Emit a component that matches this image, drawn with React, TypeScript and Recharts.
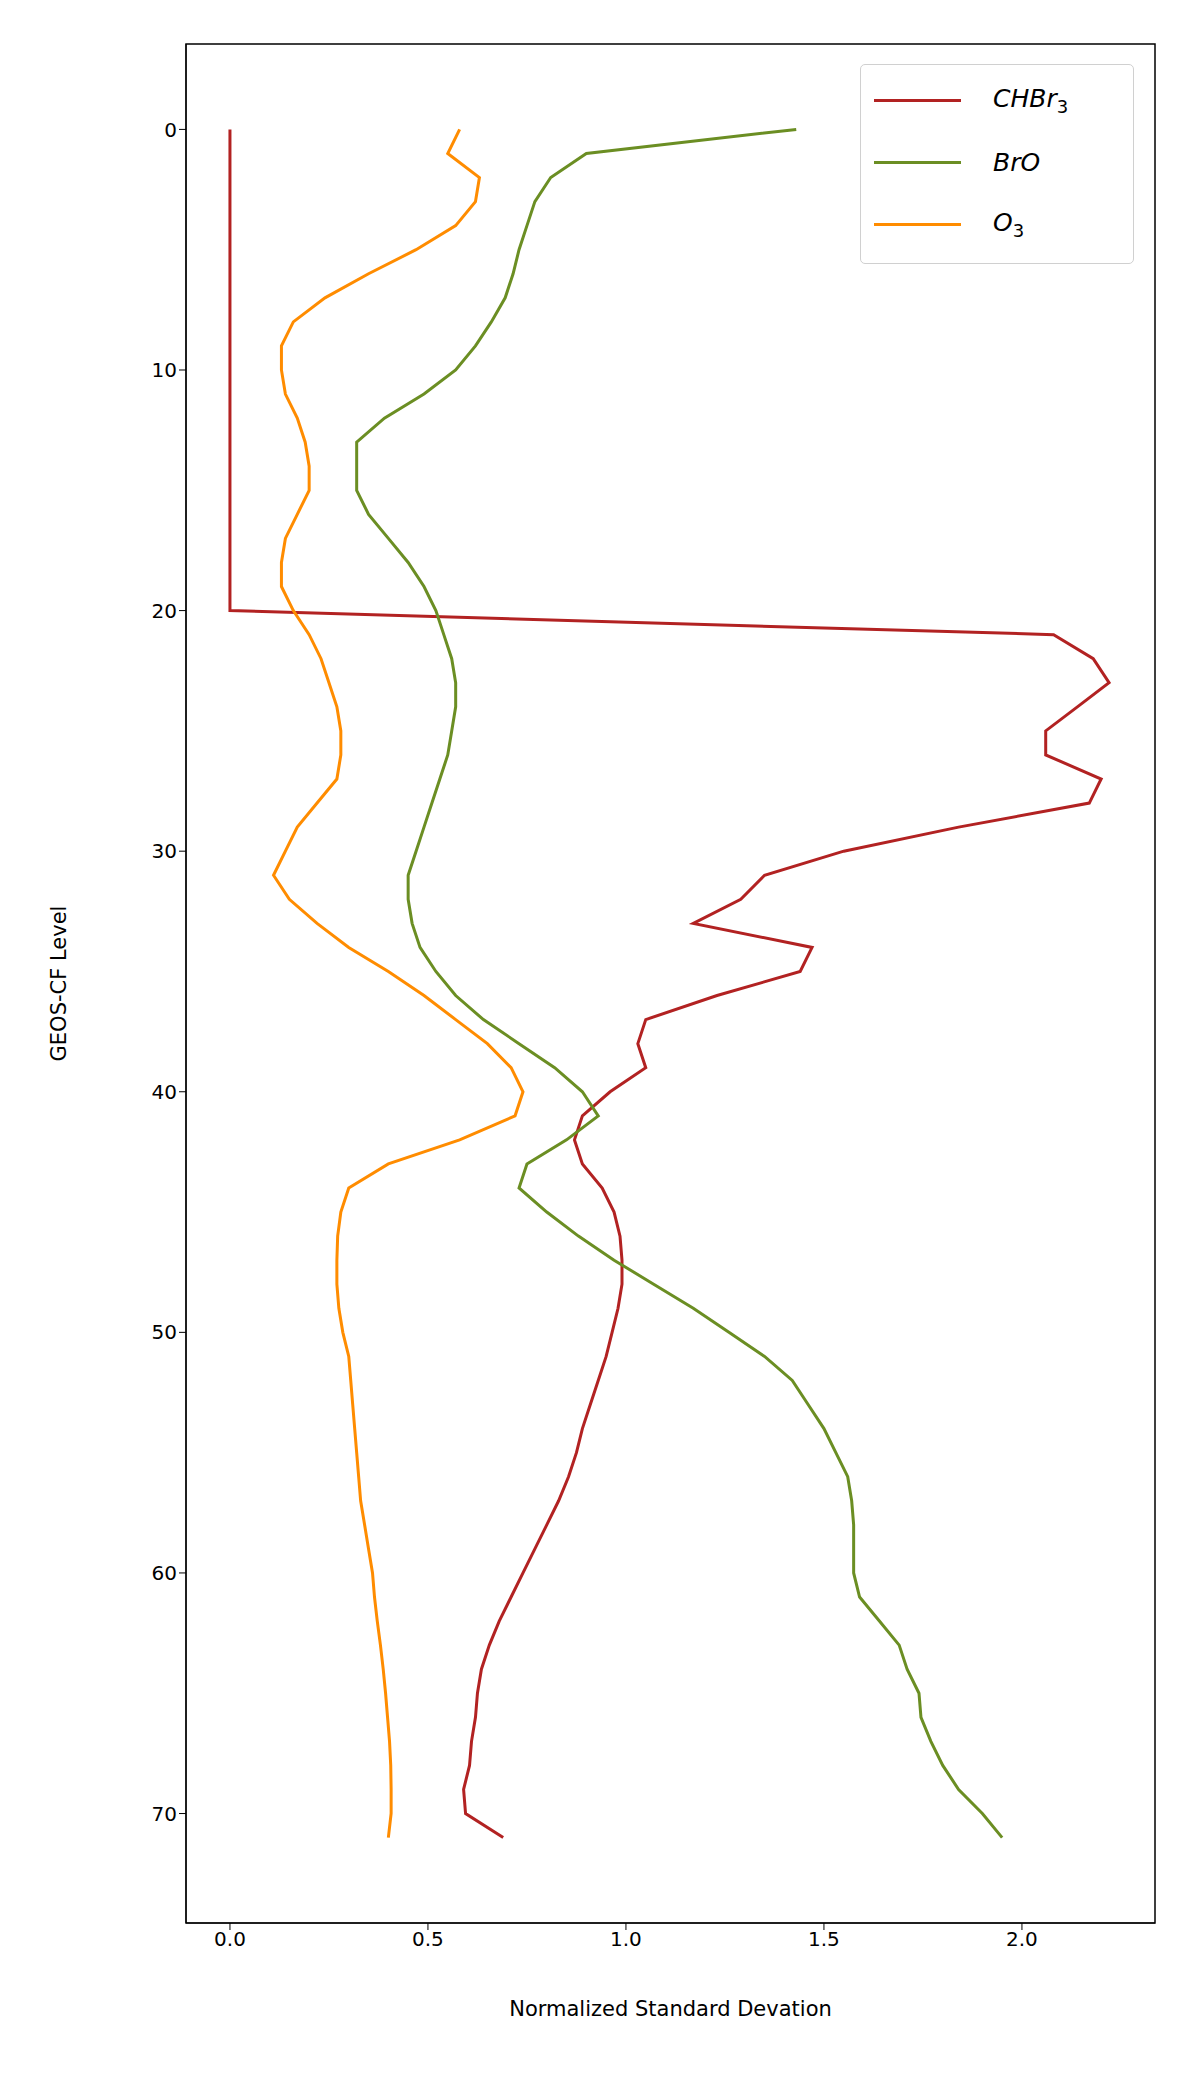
import React from 'react';
import { ScatterChart, Scatter, XAxis, YAxis, Label, Legend, ReferenceArea } from 'recharts';

const levels = Array.from({ length: 72 }, (_, i) => i);

const chbr3 = [
  0, 0, 0, 0, 0, 0, 0, 0, 0, 0, 0, 0, 0, 0, 0, 0, 0, 0, 0, 0, 0,
  2.08, 2.18, 2.22, 2.14, 2.06, 2.06, 2.2, 2.17, 1.84, 1.55, 1.35, 1.29, 1.17, 1.47, 1.44,
  1.23, 1.05, 1.03, 1.05, 0.96, 0.89, 0.87, 0.89, 0.94, 0.97, 0.985, 0.99, 0.99, 0.98,
  0.965, 0.95, 0.93, 0.91, 0.89, 0.875, 0.855, 0.83, 0.8, 0.77, 0.74, 0.71, 0.68, 0.655,
  0.635, 0.625, 0.62, 0.61, 0.605, 0.59, 0.595, 0.69,
];

const bro = [
  1.43, 0.9, 0.81, 0.77, 0.75, 0.73, 0.715, 0.695, 0.66, 0.62, 0.57, 0.49, 0.39, 0.32,
  0.32, 0.32, 0.35, 0.4, 0.45, 0.49, 0.52, 0.54, 0.56, 0.57, 0.57, 0.56, 0.55, 0.53, 0.51,
  0.49, 0.47, 0.45, 0.45, 0.46, 0.48, 0.52, 0.57, 0.64, 0.73, 0.82, 0.89, 0.93, 0.85, 0.75,
  0.73, 0.8, 0.88, 0.97, 1.07, 1.17, 1.26, 1.35, 1.42, 1.46, 1.5, 1.53, 1.56, 1.57, 1.575,
  1.575, 1.575, 1.59, 1.64, 1.69, 1.71, 1.74, 1.745, 1.77, 1.8, 1.84, 1.9, 1.95,
];

const o3 = [
  0.58, 0.55, 0.63, 0.62, 0.57, 0.47, 0.35, 0.24, 0.16, 0.13, 0.13, 0.14, 0.17, 0.19, 0.2,
  0.2, 0.17, 0.14, 0.13, 0.13, 0.16, 0.2, 0.23, 0.25, 0.27, 0.28, 0.28, 0.27, 0.22, 0.17,
  0.14, 0.11, 0.15, 0.22, 0.3, 0.4, 0.49, 0.57, 0.65, 0.71, 0.74, 0.72, 0.58, 0.4, 0.3,
  0.28, 0.272, 0.27, 0.27, 0.275, 0.285, 0.3, 0.305, 0.31, 0.315, 0.32, 0.325, 0.33, 0.34, 0.35,
  0.36, 0.365, 0.372, 0.38, 0.387, 0.393, 0.398, 0.403, 0.406, 0.407, 0.407, 0.4,
];

const xTicks = [0, 0.5, 1, 1.5, 2];
const yTicks = [0, 10, 20, 30, 40, 50, 60, 70];
const xDomain: [number, number] = [-0.111, 2.336];
const yDomain: [number, number] = [-3.55, 74.55];

const series = [
  { name: 'CHBr', sub: '3', values: chbr3, color: '#b22222' },
  { name: 'BrO', sub: '', values: bro, color: '#6b8e23' },
  { name: 'O', sub: '3', values: o3, color: '#ff8c00' },
];

const font = 'DejaVu Sans, sans-serif';
const tickStyle = { fill: '#000', fontSize: 20, fontFamily: font };

function LegendBox() {
  return (
    <div
      style={{
        position: 'absolute',
        left: 860,
        top: 64,
        width: 274,
        height: 200,
        border: '1.5px solid #d0d0d0',
        borderRadius: 5,
        background: '#fff',
        boxSizing: 'border-box',
        fontFamily: font,
        fontSize: 25,
        paddingTop: 4,
      }}
    >
      {series.map((s) => (
        <div key={s.name} style={{ display: 'flex', alignItems: 'center', height: 62 }}>
          <div style={{ width: 87, height: 3, background: s.color, marginLeft: 13, marginRight: 32 }} />
          <span style={{ fontStyle: 'italic' }}>
            {s.name}
            {s.sub && <sub style={{ fontStyle: 'normal', fontSize: 18 }}>{s.sub}</sub>}
          </span>
        </div>
      ))}
    </div>
  );
}

export default function App() {
  return (
    <div style={{ position: 'absolute', left: 0, top: 0, width: 1200, height: 2100, background: '#fff' }}>
      <ScatterChart width={1200} height={2100} margin={{ top: 44, right: 45, left: 0, bottom: 0 }}>
        <XAxis
          type="number"
          dataKey="x"
          domain={xDomain}
          ticks={xTicks}
          tickFormatter={(v: number) => v.toFixed(1)}
          height={177}
          tick={tickStyle}
          tickSize={7}
          stroke="#000"
          allowDataOverflow
        >
          <Label value="Normalized Standard Devation" position="insideTop" offset={0} dy={78} style={{ fill: '#000', fontSize: 21, fontFamily: font }} />
        </XAxis>
        <YAxis
          type="number"
          dataKey="y"
          reversed
          domain={yDomain}
          ticks={yTicks}
          width={186}
          tick={tickStyle}
          tickSize={7}
          stroke="#000"
          allowDataOverflow
        >
          <Label value="GEOS-CF Level" angle={-90} position="insideLeft" offset={59} style={{ fill: '#000', fontSize: 21, fontFamily: font, textAnchor: 'middle' }} />
        </YAxis>
        <ReferenceArea x1={xDomain[0]} x2={xDomain[1]} y1={yDomain[0]} y2={yDomain[1]} fill="none" stroke="#000" strokeWidth={1.5} ifOverflow="visible" />
        {series.map((s) => (
          <Scatter
            key={s.name}
            data={levels.map((l) => ({ x: s.values[l], y: l }))}
            line={{ stroke: s.color, strokeWidth: 3 }}
            lineType="joint"
            shape={() => null}
            isAnimationActive={false}
          />
        ))}
        <Legend content={() => <LegendBox />} wrapperStyle={{ position: 'absolute', left: 0, top: 0 }} />
      </ScatterChart>
    </div>
  );
}
